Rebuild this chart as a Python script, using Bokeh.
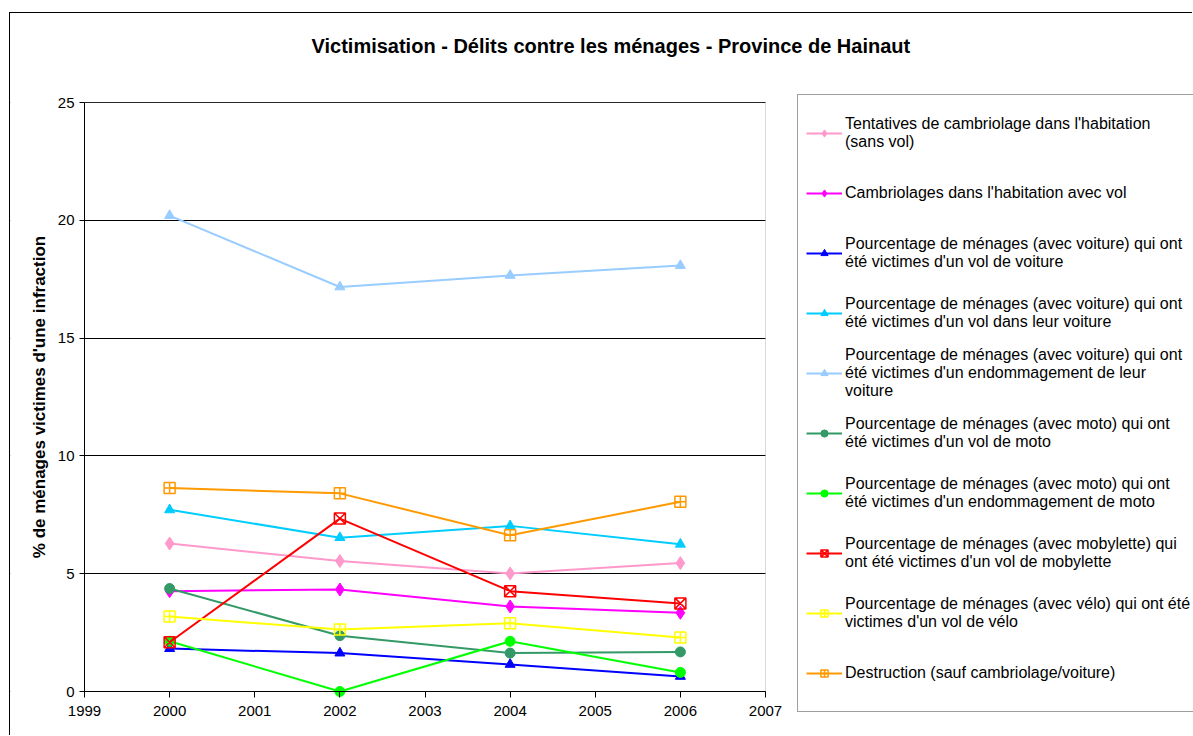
from bokeh.plotting import figure
from bokeh.models import Legend, LegendItem, FixedTicker, Range1d, Label, BoxAnnotation
from bokeh.embed import file_html
from bokeh.resources import INLINE

years = [2000, 2002, 2004, 2006]

tentatives = [6.28, 5.54, 5.01, 5.45]
cambriolages = [4.26, 4.33, 3.61, 3.34]
vol_voiture = [1.82, 1.63, 1.15, 0.64]
vol_dans_voiture = [7.71, 6.53, 7.03, 6.25]
endom_voiture = [20.2, 17.17, 17.66, 18.08]
vol_moto = [4.37, 2.37, 1.63, 1.68]
endom_moto = [2.13, 0.0, 2.13, 0.81]
vol_mobylette = [2.09, 7.34, 4.26, 3.74]
vol_velo = [3.18, 2.63, 2.90, 2.29]
destruction = [8.64, 8.41, 6.63, 8.05]

labels = [
    "Tentatives de cambriolage dans l'habitation\n(sans vol)",
    "Cambriolages dans l'habitation avec vol",
    "Pourcentage de ménages (avec voiture) qui ont\nété victimes d'un vol de voiture",
    "Pourcentage de ménages (avec voiture) qui ont\nété victimes d'un vol dans leur voiture",
    "Pourcentage de ménages (avec voiture) qui ont\nété victimes d'un endommagement de leur\nvoiture",
    "Pourcentage de ménages (avec moto) qui ont\nété victimes d'un vol de moto",
    "Pourcentage de ménages (avec moto) qui ont\nété victimes d'un endommagement de moto",
    "Pourcentage de ménages (avec mobylette) qui\nont été victimes d'un vol de mobylette",
    "Pourcentage de ménages (avec vélo) qui ont été\nvictimes d'un vol de vélo",
    "Destruction (sauf cambriolage/voiture)",
]
x_ticks = [1999, 2000, 2001, 2002, 2003, 2004, 2005, 2006, 2007]
y_ticks = [0, 5, 10, 15, 20, 25]

series = [tentatives, cambriolages, vol_voiture, vol_dans_voiture, endom_voiture,
          vol_moto, endom_moto, vol_mobylette, vol_velo, destruction]
colors = ["#FF99CC", "#FF00FF", "#0000FF", "#00CCFF", "#99CCFF",
          "#339966", "#00FF00", "#FF0000", "#FFFF00", "#FF9900"]
markers = ["diamond", "diamond", "triangle", "triangle", "triangle",
           "circle", "circle", "square_x", "square_cross", "square_cross"]

FONT = "Liberation Sans"

# ---- layout in pixels (page coordinates) ----
ORIGIN_X, ORIGIN_Y = 10, 13          # chart area corner (after margin + border)
FIG_W, FIG_H = 1183, 723
PLOT_L, PLOT_R, PLOT_T, PLOT_B = 84, 765, 102, 691   # plot area
FRAME_L = ORIGIN_X
FRAME_R = ORIGIN_X + FIG_W
FRAME_T = ORIGIN_Y
FRAME_B = ORIGIN_Y + FIG_H

x0, x1 = x_ticks[0], x_ticks[-1]
y0, y1 = y_ticks[0], y_ticks[-1]
px_x = (PLOT_R - PLOT_L) / (x1 - x0)
px_y = (PLOT_B - PLOT_T) / (y1 - y0)
x_range = Range1d(x0 - (PLOT_L - FRAME_L) / px_x, x1 + (FRAME_R - PLOT_R) / px_x)
y_range = Range1d(y0 - (FRAME_B - PLOT_B) / px_y, y1 + (PLOT_T - FRAME_T) / px_y)

p = figure(width=FIG_W, height=FIG_H, output_backend="svg", toolbar_location=None,
           x_range=x_range, y_range=y_range,
           min_border_left=0, min_border_right=0, min_border_top=0, min_border_bottom=0)
p.margin = (ORIGIN_Y - 1, 0, 0, ORIGIN_X - 1)
p.styles = {"border-top": "1px solid black", "border-left": "1px solid black"}
p.title = None
p.outline_line_color = None
p.xgrid.visible = False
p.ygrid.grid_line_color = "black"
p.ygrid.grid_line_width = 1

for ax in (p.xaxis[0], p.yaxis[0]):
    ax.axis_line_color = "black"
    ax.major_tick_line_color = "black"
    ax.minor_tick_line_color = None
    ax.major_tick_in = 0
    ax.major_label_text_font = FONT
    ax.major_label_text_font_size = "15px"
    ax.major_label_text_color = "black"

p.xaxis.fixed_location = y0
p.yaxis.fixed_location = x0
p.xaxis.bounds = (x0, x1)
p.yaxis.bounds = (y0, y1)
p.xaxis.major_tick_out = 6
p.yaxis.major_tick_out = 5
p.xaxis.ticker = FixedTicker(ticks=x_ticks)
p.yaxis.ticker = FixedTicker(ticks=y_ticks)
p.xaxis.major_label_standoff = 8
p.yaxis.major_label_standoff = 5
p.yaxis.axis_label = "% de ménages victimes d'une infraction"
p.yaxis.axis_label_text_font = FONT
p.yaxis.axis_label_text_font_size = "17px"
p.yaxis.axis_label_text_font_style = "bold"
p.yaxis.axis_label_text_color = "black"
p.yaxis.axis_label_standoff = 6

# blank the grid outside the plot area, then draw the grey plot-area border
p.add_layout(BoxAnnotation(left=x1, fill_color="white", fill_alpha=1, line_color=None,
                           level="underlay"))
p.add_layout(BoxAnnotation(right=x0, fill_color="white", fill_alpha=1, line_color=None,
                           level="underlay"))
p.add_layout(BoxAnnotation(left=x0, right=x1, bottom=y0, top=y1, fill_alpha=0,
                           line_color="#808080", line_width=1, level="underlay"))

items = []
for vals, col, mk, lab in zip(series, colors, markers, labels):
    r1 = p.line(years, vals, line_color=col, line_width=2)
    if mk.startswith("square"):
        r2 = p.scatter(years, vals, marker=mk, size=11, line_color=col, fill_color=None, line_width=1.5)
    elif mk == "diamond":
        r2 = p.scatter(years, vals, marker=mk, size=13, line_color=col, fill_color=col)
    else:
        r2 = p.scatter(years, vals, marker=mk, size=10, line_color=col, fill_color=col)
    items.append(LegendItem(label=lab, renderers=[r1, r2]))

p.add_layout(Label(text="Victimisation - Délits contre les ménages - Province de Hainaut",
                   x=311 - FRAME_L, y=FRAME_B - 45, x_units="screen", y_units="screen",
                   text_font=FONT, text_font_size="20px", text_font_style="bold",
                   text_color="black", text_align="left", text_baseline="middle"))

legend = Legend(items=items, location=(797 - FRAME_L, FRAME_B - 712), orientation="vertical",
                label_text_font=FONT, label_text_font_size="16px", label_text_line_height=1.15,
                label_text_color="black",
                glyph_width=36, glyph_height=18, label_standoff=3, spacing=0, label_height=60,
                padding=8, margin=0, border_line_color="#404040", border_line_width=1,
                background_fill_color="white", background_fill_alpha=1)
p.add_layout(legend, "center")

open("out.html", "w").write(file_html(p, INLINE))
